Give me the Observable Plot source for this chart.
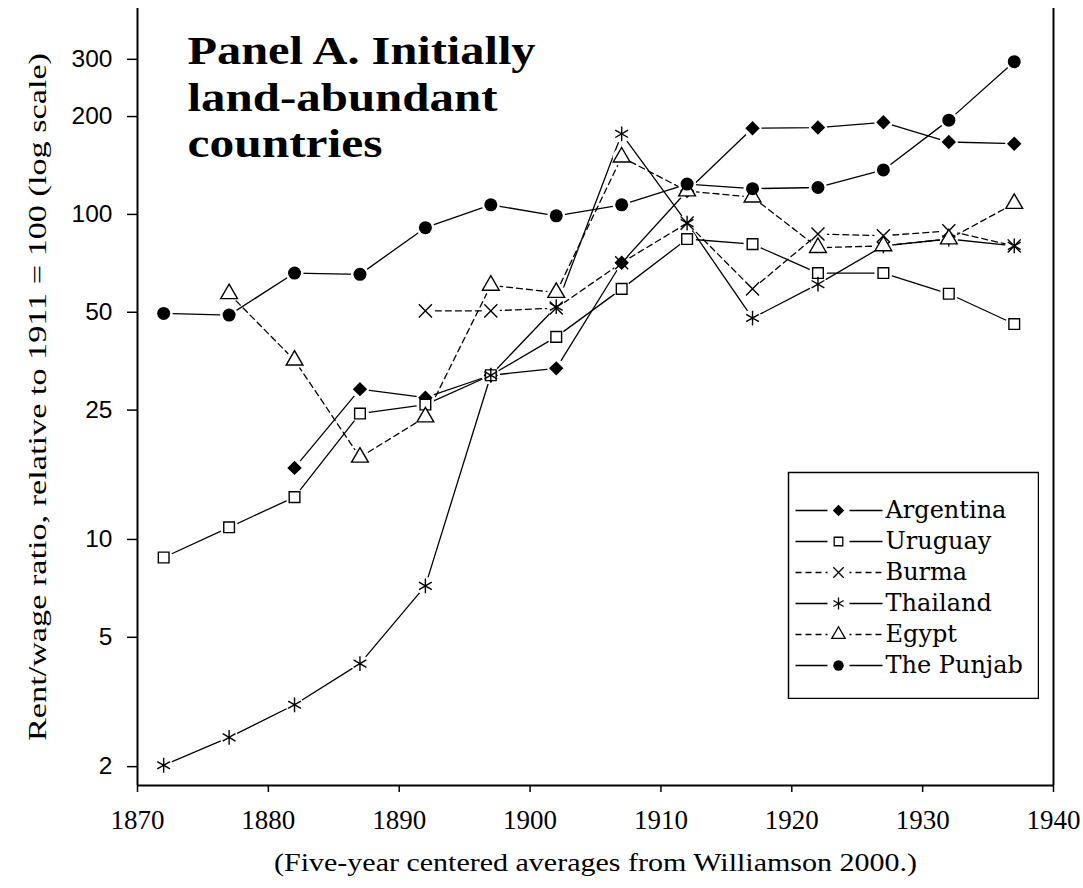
<!DOCTYPE html>
<html>
<head>
<meta charset="utf-8">
<script src="https://cdn.jsdelivr.net/npm/d3@7"></script>
<script src="https://cdn.jsdelivr.net/npm/@observablehq/plot@0.6"></script>
<style>
  html, body { margin: 0; padding: 0; background: white; }
  #wrap { position: relative; width: 1083px; height: 888px; background: white; }
  #legend { position: absolute; left: 787px; top: 471px; }
</style>
</head>
<body>
<div id="wrap"><div id="chart"></div><div id="legend"></div></div>
<script>
// ---- data ----
const years = [1872, 1877, 1882, 1887, 1892, 1897, 1902, 1907, 1912, 1917, 1922, 1927, 1932, 1937];
const argentina = [null, null, 16.6, 29, 27.3, 32, 33.6, 71, 118, 184, 185, 192, 167, 165];
const uruguay   = [8.8, 10.9, 13.5, 24.4, 26, 32, 42, 59, 84, 81, 66, 66, 57, 46];
const burma     = [null, null, null, null, 50.5, 50.5, 51.5, 71, 94, 59, 87, 86, 89, 80];
const thailand  = [2.02, 2.46, 3.1, 4.15, 7.2, 32, 52, 177, 94, 48, 61, 80, 84, 80];
const egypt     = [null, 57, 35.6, 17.9, 23.8, 60.5, 57.5, 150, 118, 113, 79, 80, 84, 108];
const punjab    = [49.6, 49, 66, 65.4, 91, 107, 99, 107, 124, 120, 121, 137, 195, 295];

const seriesNames = ["Argentina", "Uruguay", "Burma", "Thailand", "Egypt", "The Punjab"];
const seriesValues = [argentina, uruguay, burma, thailand, egypt, punjab];

const xTicks = [1870, 1880, 1890, 1900, 1910, 1920, 1930, 1940];
const yTicks = [2, 5, 10, 25, 50, 100, 200, 300];
const xDomain = [1870, 1940];
const yDomain = [1.75, 430];

const titleLines = ["Panel A. Initially", "land-abundant", "countries"];
const yLabel = "Rent/wage ratio, relative to 1911 = 100 (log scale)";
const captionText = "(Five-year centered averages from Williamson 2000.)";

// ---- styles per series ----
const symbolOf = {"Argentina": "diamond2", "Uruguay": "square2", "Burma": "times", "Thailand": "asterisk", "Egypt": "triangle2", "The Punjab": "circle"};
const filledOf = {"Argentina": true, "Uruguay": false, "Burma": false, "Thailand": false, "Egypt": false, "The Punjab": true};
const dashedOf = {"Argentina": false, "Uruguay": false, "Burma": true, "Thailand": false, "Egypt": true, "The Punjab": false};
const rOf = {"Argentina": 6.5, "Uruguay": 6.8, "Burma": 6, "Thailand": 7, "Egypt": 8, "The Punjab": 6.5};

const rows = [];
seriesNames.forEach((name, i) => {
  seriesValues[i].forEach((v, j) => {
    if (v != null) rows.push({country: name, year: years[j], value: v});
  });
});

const marks = [];
// frame lines (left, right, bottom)
marks.push(Plot.ruleX(xDomain, {stroke: "black", strokeWidth: 2}));
marks.push(Plot.ruleY([yDomain[0]], {stroke: "black", strokeWidth: 2}));
// axis ticks (labels drawn separately)
marks.push(Plot.axisY(yTicks, {tickSize: 10, tickFormat: () => "", label: null, strokeWidth: 1.5}));
marks.push(Plot.axisX(xTicks, {tickSize: 7, tickFormat: () => "", label: null, strokeWidth: 1.5}));
// tick labels
marks.push(Plot.text(yTicks, {y: d => d, frameAnchor: "left", dx: -25, textAnchor: "end", lineAnchor: "middle", text: d => String(d), fontSize: 24.5, fontFamily: "Liberation Sans", fill: "black"}));
marks.push(Plot.text(xTicks, {x: d => d, frameAnchor: "bottom", dy: 24, textAnchor: "middle", lineAnchor: "top", text: d => String(d), fontSize: 27, fontFamily: "Liberation Serif", fill: "black"}));
// lines
seriesNames.forEach(name => {
  marks.push(Plot.line(rows.filter(d => d.country === name), {
    x: "year", y: "value", stroke: "black", strokeWidth: 1.3,
    strokeDasharray: dashedOf[name] ? "6,4" : null
  }));
});
// halos (gaps around markers)
marks.push(Plot.dot(rows, {x: "year", y: "value", r: 9, fill: "white", stroke: null}));
// markers
seriesNames.forEach(name => {
  const filled = filledOf[name];
  marks.push(Plot.dot(rows.filter(d => d.country === name), {
    x: "year", y: "value", symbol: () => symbolOf[name], r: rOf[name],
    fill: filled ? "black" : "white", stroke: filled ? "none" : "black", strokeWidth: 1.4
  }));
});
// title (three lines)
titleLines.forEach((line, i) => {
  marks.push(Plot.text([line], {frameAnchor: "top-left", dx: 50, dy: 27.5 + i * 46.5, fontSize: 40, fontWeight: "bold", fontFamily: "Liberation Serif", lineAnchor: "top", textAnchor: "start", fill: "black", className: "title" + i}));
});
// y label
marks.push(Plot.text([yLabel], {frameAnchor: "left", dx: -100, rotate: -90, textAnchor: "middle", lineAnchor: "middle", fontSize: 25, fontFamily: "Liberation Serif", fill: "black", className: "ylab"}));
// caption
marks.push(Plot.text([captionText], {frameAnchor: "bottom", dy: 77, textAnchor: "middle", lineAnchor: "middle", fontSize: 26, fontFamily: "Liberation Serif", fill: "black", className: "cap"}));

const chart = Plot.plot({
  width: 1083, height: 888,
  marginLeft: 137, marginRight: 30, marginTop: 8, marginBottom: 103,
  x: {domain: xDomain, label: null},
  y: {type: "log", domain: yDomain, label: null},
  symbol: {type: "identity"},
  style: {background: "white", color: "black"},
  marks
});
document.getElementById("chart").appendChild(chart);

const stretch = (cls, len) => d3.select(chart).selectAll("." + cls + " text").attr("textLength", len).attr("lengthAdjust", "spacingAndGlyphs");
stretch("ylab", 688);
stretch("cap", 643);
stretch("title0", 348);
stretch("title1", 310);
stretch("title2", 195);

// ---- legend ----
const legRows = seriesNames.map(name => ({country: name}));
const legMarks = [Plot.frame({stroke: "black", strokeWidth: 1.5, inset: 1, fill: "white"})];
seriesNames.forEach(name => {
  legMarks.push(Plot.link(legRows.filter(d => d.country === name), {
    x1: () => 8, x2: () => 95, y1: "country", y2: "country", stroke: "black", strokeWidth: 1.3,
    strokeDasharray: dashedOf[name] ? "6,4" : null
  }));
});
legMarks.push(Plot.dot(legRows, {x: () => 51, y: "country", r: 11, fill: "white", stroke: null}));
seriesNames.forEach(name => {
  const filled = filledOf[name];
  legMarks.push(Plot.dot(legRows.filter(d => d.country === name), {
    x: () => 51, y: "country", symbol: () => symbolOf[name], r: rOf[name] * 0.8,
    fill: filled ? "black" : "white", stroke: filled ? "none" : "black", strokeWidth: 1.3
  }));
});
legMarks.push(Plot.text(legRows, {x: () => 98, y: "country", text: "country", textAnchor: "start", fontSize: 24, fontFamily: "DejaVu Serif", fill: "black"}));

const legend = Plot.plot({
  width: 252, height: 228,
  margin: 0,
  x: {domain: [0, 252], range: [0, 252], axis: null},
  y: {type: "point", domain: seriesNames, range: [21, 212], axis: null},
  symbol: {type: "identity"},
  style: {background: "transparent", color: "black"},
  marks: legMarks
});
document.getElementById("legend").appendChild(legend);
</script>
</body>
</html>
